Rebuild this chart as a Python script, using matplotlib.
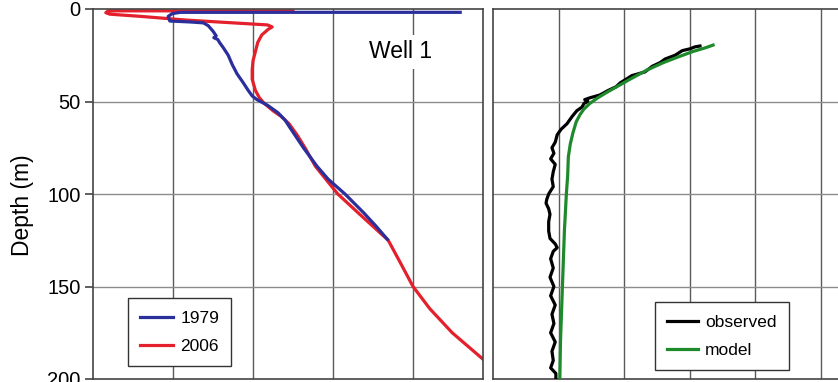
import matplotlib
matplotlib.use("Agg")
import matplotlib.pyplot as plt

plt.rcParams["font.family"] = ["Liberation Sans", "DejaVu Sans"]

# well 1 temperature logs (x in grid units, depth in m)
depth_1979 = [1.8, 1.8, 2.5, 4.0, 6.5, 7.0, 7.5, 9.0, 12.0, 14.5, 15.5, 16.5, 18.0,
              21.0, 25.0, 30.0, 35.0, 40.0, 44.0, 47.0, 49.0, 52.0, 56.0, 60.0,
              64.0, 75.0, 85.0, 92.0, 100.0, 110.0, 117.0, 124.5]
temp_1979 = [4.59, 1.09, 0.99, 0.94, 0.96, 1.21, 1.38, 1.44, 1.50, 1.54, 1.51, 1.56, 1.58,
             1.63, 1.69, 1.74, 1.80, 1.88, 1.94, 1.99, 2.05, 2.18, 2.31, 2.40,
             2.46, 2.63, 2.80, 2.94, 3.15, 3.38, 3.53, 3.68]

depth_2006 = [1.0, 1.0, 2.0, 2.8, 4.0, 6.0, 8.6, 9.7, 11.0, 14.0, 18.0, 23.0, 28.0,
              33.0, 38.0, 44.0, 48.0, 51.0, 55.0, 58.0, 62.0, 68.0, 75.0, 85.0,
              92.0, 100.0, 110.0, 125.0, 137.0, 150.0, 162.0, 175.0, 188.0, 195.0]
temp_2006 = [2.50, 0.19, 0.16, 0.21, 0.60, 1.17, 2.18, 2.24, 2.19, 2.11, 2.06, 2.03, 2.00,
             1.99, 1.99, 2.03, 2.08, 2.14, 2.25, 2.35, 2.45, 2.55, 2.65, 2.78,
             2.91, 3.06, 3.31, 3.69, 3.84, 4.00, 4.21, 4.49, 4.84, 5.03]

depth_obs = [20.0, 20.5, 21.5, 22.5, 25, 27, 29, 31, 34, 36, 38, 40, 42, 44, 46.5, 48,
             49, 50, 51, 53, 55, 58, 62, 65, 68, 72, 75, 78, 81, 84, 88, 92, 96, 100,
             103, 105, 108, 111, 115, 120, 124, 127, 129, 131, 135, 140, 145, 150,
             155, 160, 165, 170, 175, 180, 185, 190, 194, 197, 200]
temp_obs = [3.16, 3.08, 3.01, 2.89, 2.78, 2.63, 2.55, 2.43, 2.32, 2.12, 2.03, 1.94, 1.88,
            1.76, 1.63, 1.48, 1.40, 1.45, 1.39, 1.36, 1.28, 1.21, 1.13, 1.04, 0.98,
            0.95, 0.90, 0.93, 0.88, 0.95, 0.92, 0.90, 0.92, 0.85, 0.82, 0.81, 0.85,
            0.87, 0.85, 0.85, 0.87, 0.95, 0.98, 0.92, 0.88, 0.92, 0.87, 0.93, 0.88,
            0.95, 0.90, 0.93, 0.88, 0.95, 0.90, 0.92, 0.88, 0.96, 0.96]

depth_model = [19.5, 21, 23, 26, 29, 33, 38, 42, 45, 48, 51, 54, 57, 61, 67, 73, 80,
               90, 100, 120, 140, 160, 180, 200]
temp_model = [3.36, 3.24, 3.05, 2.82, 2.60, 2.35, 2.09, 1.89, 1.74, 1.60, 1.48, 1.39,
              1.33, 1.27, 1.22, 1.18, 1.15, 1.14, 1.12, 1.09, 1.07, 1.05, 1.03, 1.02]

depth_ticks = [0, 50, 100, 150, 200]

W, H = 838, 382
fig = plt.figure(figsize=(W / 100, H / 100), dpi=100)
ax1 = fig.add_axes([93 / W, 3 / H, 390 / W, 370 / H])
ax2 = fig.add_axes([493 / W, 3 / H, 393 / W, 370 / H])

GRID_V = "#5a5a5a"
GRID_H = "#8c8c8c"
LW = 2.3

for ax, xmax, nx in ((ax1, 4.875, 4), (ax2, 6.0, 5)):
    ax.set_xlim(0, xmax)
    ax.set_ylim(200, 0)
    ax.set_xticks(range(1, nx + 1))
    ax.set_yticks(depth_ticks)
    for x in range(1, nx + 1):
        ax.axvline(x, color=GRID_V, lw=1.0, zorder=0)
    for d in depth_ticks[1:-1]:
        ax.axhline(d, color=GRID_H, lw=1.0, zorder=0)
    ax.tick_params(axis="x", length=0, labelbottom=False)
    for s in ax.spines.values():
        s.set_color("#444444")
        s.set_linewidth(1.2)

ax1.tick_params(axis="y", length=6, width=1.2, color="#444444", pad=3, labelsize=14.5)
ax2.tick_params(axis="y", length=0, labelleft=False)

ax1.plot(temp_1979, depth_1979, color="#2a2f9c", lw=LW, label="1979", zorder=3)
ax1.plot(temp_2006, depth_2006, color="#e3202b", lw=LW, label="2006", zorder=2)
ax1.set_ylabel("Depth (m)", fontsize=16.5)
ax1.yaxis.set_label_coords(-0.15, 0.47)
ax1.text(3.84, 23, "Well 1", fontsize=16.5, ha="center", va="center",
         bbox=dict(facecolor="white", edgecolor="none", pad=4), zorder=4)

ax2.plot(temp_obs, depth_obs, color="black", lw=LW, label="observed", zorder=3)
ax2.plot(temp_model, depth_model, color="#1e8a2c", lw=LW, label="model", zorder=4)

leg_kw = dict(fontsize=12.5, frameon=True, fancybox=False, framealpha=1,
              edgecolor="#333333", borderaxespad=0, handletextpad=0.4,
              labelspacing=0.75, borderpad=0.7)
l1 = ax1.legend(loc="lower left", bbox_to_anchor=(0.09, 0.035), handlelength=1.9,
                **leg_kw)
l2 = ax2.legend(loc="lower left", bbox_to_anchor=(0.412, 0.024), handlelength=1.8,
                **leg_kw)
for leg in (l1, l2):
    leg.get_frame().set_linewidth(1.0)

fig.savefig("out.png", dpi=100)
